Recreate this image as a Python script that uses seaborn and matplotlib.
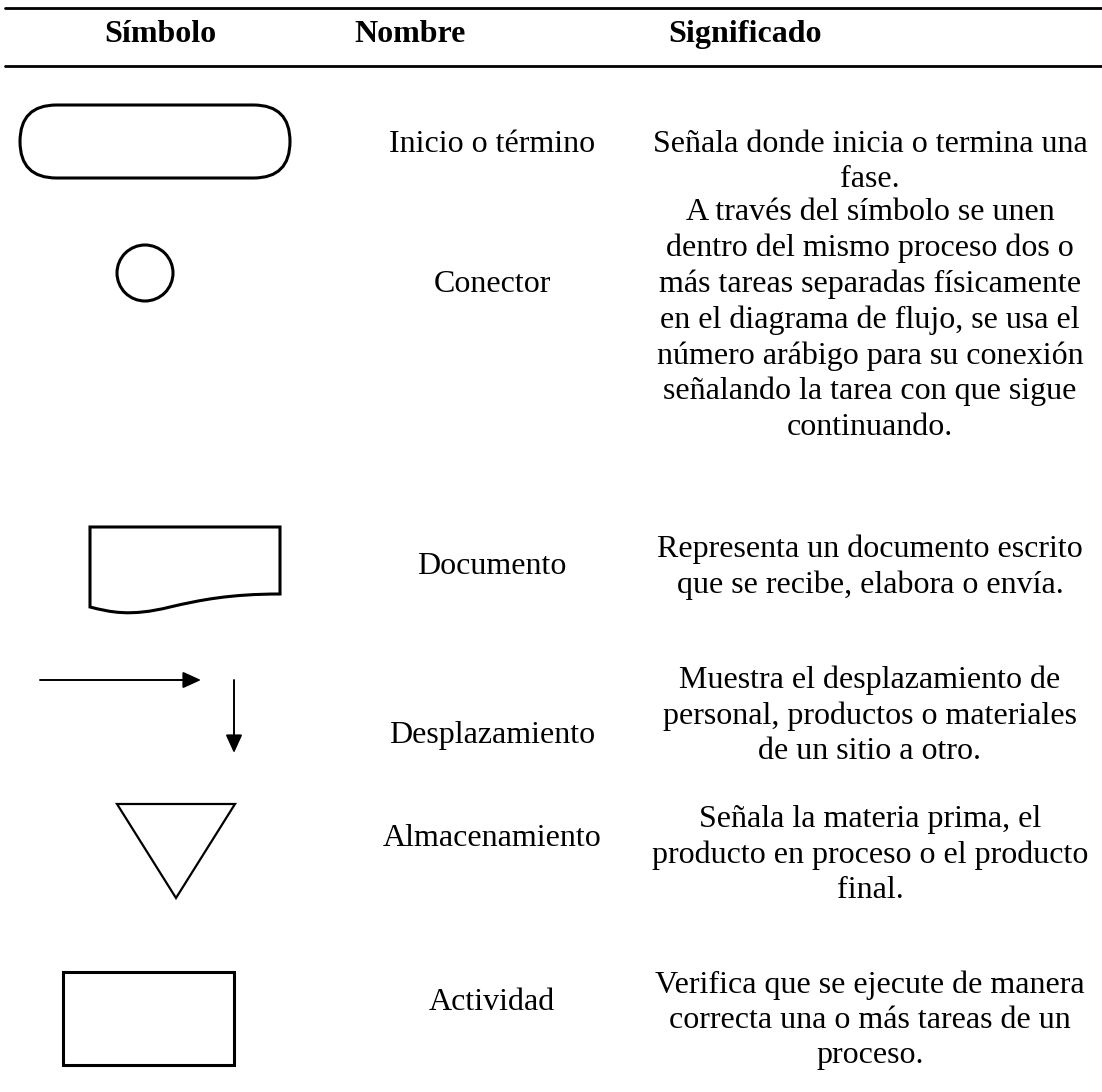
import matplotlib
matplotlib.use("Agg")
import matplotlib.pyplot as plt
import matplotlib.patches as mpatches
from matplotlib.path import Path
import seaborn as sns

# Table content
headers = ["Símbolo", "Nombre", "Significado"]
names = ["Inicio o término", "Conector", "Documento", "Desplazamiento",
         "Almacenamiento", "Actividad"]
meanings = [
    "Señala donde inicia o termina una\nfase.",
    "A través del símbolo se unen\ndentro del mismo proceso dos o\nmás tareas separadas físicamente\n"
    "en el diagrama de flujo, se usa el\nnúmero arábigo para su conexión\n"
    "señalando la tarea con que sigue\ncontinuando.",
    "Representa un documento escrito\nque se recibe, elabora o envía.",
    "Muestra el desplazamiento de\npersonal, productos o materiales\nde un sitio a otro.",
    "Señala la materia prima, el\nproducto en proceso o el producto\nfinal.",
    "Verifica que se ejecute de manera\ncorrecta una o más tareas de un\nproceso.",
]
name_y = [144, 284, 567, 735, 838, 1002]
meaning_y = [162, 320, 567, 716, 855, 1020]

sns.set_style("white")
plt.rcParams['font.family'] = ['Liberation Serif', 'DejaVu Serif']
plt.rcParams['text.color'] = 'black'

W, H = 1102, 1092
fig = plt.figure(figsize=(W / 100, H / 100), dpi=100)
ax = fig.add_axes([0, 0, 1, 1])
ax.set_xlim(0, W)
ax.set_ylim(H, 0)
ax.axis('off')

fs = 23
lw = 2.2

# header rules
ax.plot([5, W], [8, 8], color='black', lw=2)
ax.plot([5, W], [66, 66], color='black', lw=2)
for x, h in zip([160, 410, 745], headers):
    ax.text(x, 42, h, ha='center', va='baseline', fontsize=fs, fontweight='bold')

for y, n in zip(name_y, names):
    ax.text(492, y, n, ha='center', va='center', fontsize=fs)
for y, m in zip(meaning_y, meanings):
    ax.text(870, y, m, ha='center', va='center', fontsize=fs, linespacing=1.28)

# terminal (stadium)
term = mpatches.FancyBboxPatch((20, 105), 270, 73,
                               boxstyle="round,pad=0,rounding_size=36.5",
                               fc='white', ec='black', lw=lw)
ax.add_patch(term)

# connector
ax.add_patch(mpatches.Ellipse((145, 273), 56, 56, fc='white', ec='black', lw=lw))

# document
verts = [(90, 527), (280, 527), (280, 594),
         (230, 594), (200, 600), (170, 607),
         (130, 617), (110, 612), (90, 607), (90, 527)]
codes = [Path.MOVETO, Path.LINETO, Path.LINETO,
         Path.CURVE4, Path.CURVE4, Path.CURVE4,
         Path.CURVE4, Path.CURVE4, Path.CURVE4, Path.CLOSEPOLY]
ax.add_patch(mpatches.PathPatch(Path(verts, codes), fc='white', ec='black', lw=lw))

# arrows
arrow = dict(arrowstyle='-|>,head_length=1.1,head_width=0.5',
             color='black', lw=1.4, shrinkA=0, shrinkB=0)
ax.annotate('', xy=(201, 680), xytext=(40, 680), arrowprops=arrow)
ax.annotate('', xy=(234, 753), xytext=(234, 680), arrowprops=arrow)

# storage triangle
ax.add_patch(mpatches.Polygon([(117, 804), (235, 804), (176, 898)], closed=True,
                              fc='white', ec='black', lw=1.6))

# activity rectangle
ax.add_patch(mpatches.Rectangle((63, 972), 171, 93, fc='white', ec='black', lw=lw))

fig.savefig("out.png", dpi=100)
